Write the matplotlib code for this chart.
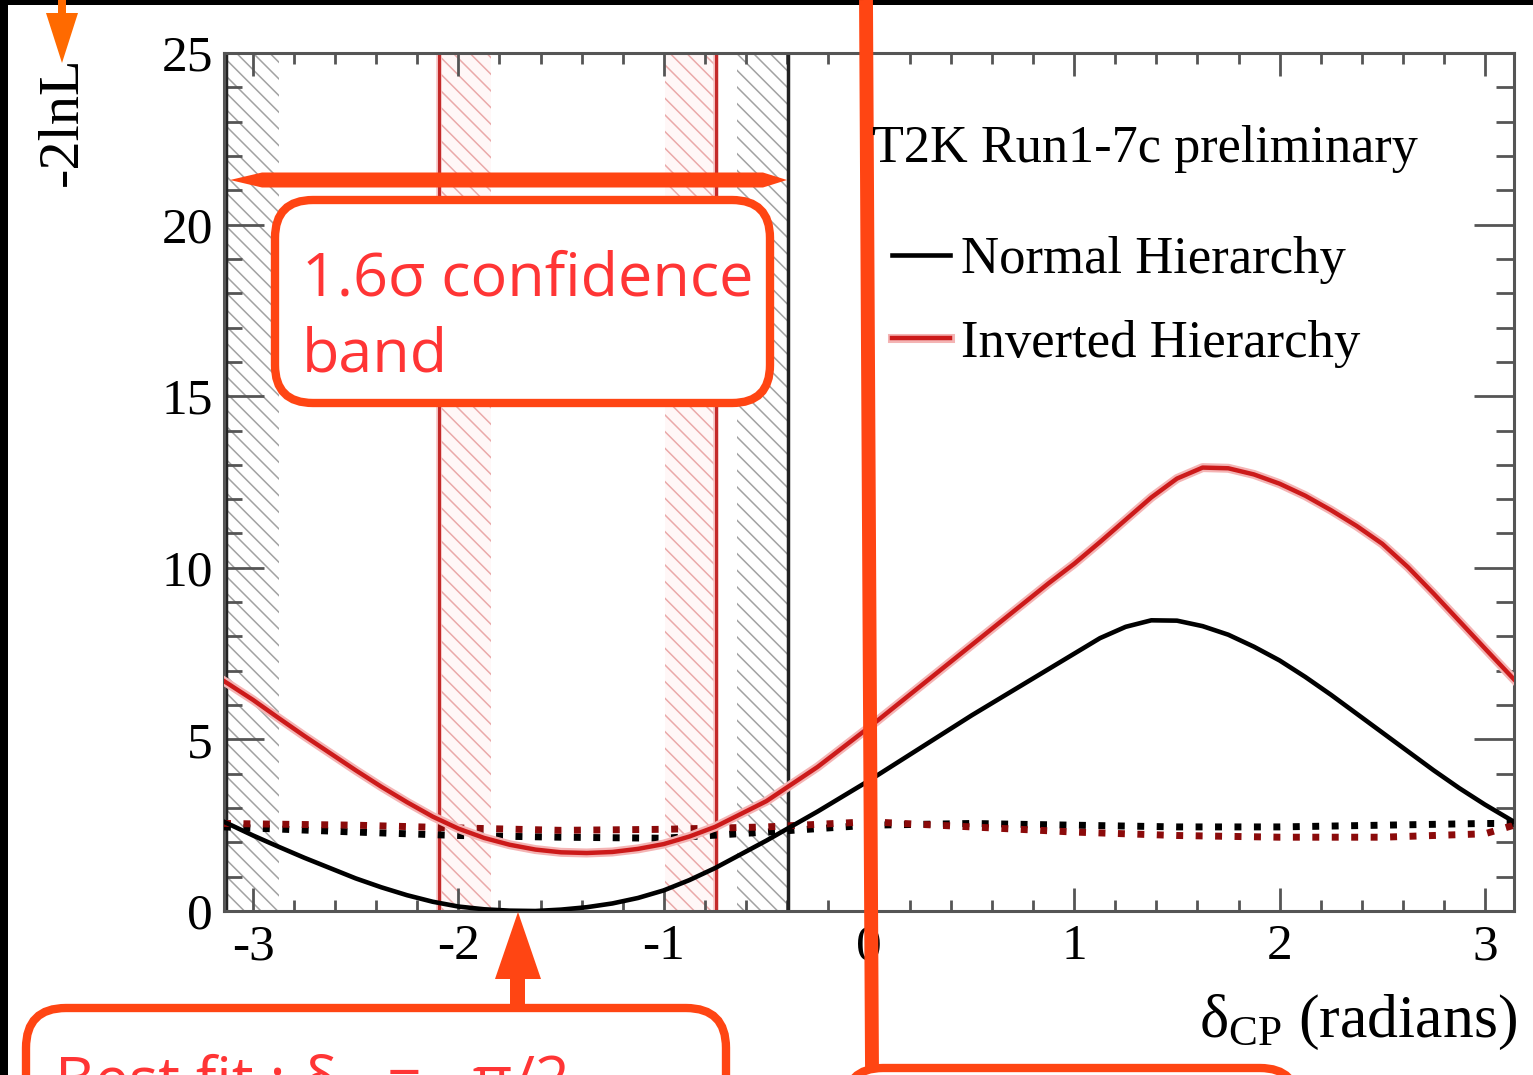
import numpy as np
import matplotlib
matplotlib.use("Agg")
import matplotlib.pyplot as plt
import matplotlib.patheffects as pe
import matplotlib.transforms as mtransforms
from matplotlib.patches import FancyBboxPatch, Polygon, Rectangle
from matplotlib.lines import Line2D
from matplotlib.ticker import MultipleLocator

plt.rcParams['font.family'] = ['Liberation Serif', 'DejaVu Serif']
plt.rcParams['axes.unicode_minus'] = False
plt.rcParams['mathtext.fontset'] = 'custom'
plt.rcParams['mathtext.rm'] = 'Liberation Serif'
plt.rcParams['mathtext.it'] = 'Liberation Serif:italic'
plt.rcParams['hatch.linewidth'] = 1.1

# -2lnL vs delta_CP
delta = [-3.1416, -3.0, -2.875, -2.75, -2.625, -2.5, -2.375, -2.25, -2.125, -2.0,
         -1.875, -1.75, -1.625, -1.5, -1.375, -1.25, -1.125, -1.0, -0.875, -0.75,
         -0.5, -0.25, 0.0, 0.25, 0.5, 0.75, 0.875, 1.0, 1.125, 1.25,
         1.375, 1.5, 1.625, 1.75, 1.875, 2.0, 2.125, 2.25, 2.375, 2.5,
         2.625, 2.75, 2.875, 3.0, 3.1416]
nh = [2.6, 2.2, 1.87, 1.55, 1.25, 0.95, 0.69, 0.46, 0.27, 0.13,
      0.05, 0.01, 0.0, 0.04, 0.11, 0.22, 0.38, 0.6, 0.9, 1.25,
      2.05, 2.9, 3.8, 4.75, 5.7, 6.6, 7.05, 7.5, 7.95, 8.28,
      8.47, 8.46, 8.3, 8.05, 7.7, 7.3, 6.82, 6.3, 5.75, 5.2,
      4.65, 4.1, 3.58, 3.1, 2.6]
ih = [6.7, 6.15, 5.62, 5.1, 4.6, 4.1, 3.62, 3.17, 2.75, 2.4,
      2.13, 1.93, 1.79, 1.71, 1.69, 1.72, 1.81, 1.95, 2.17, 2.45,
      3.2, 4.2, 5.35, 6.55, 7.75, 8.95, 9.55, 10.12, 10.75, 11.4,
      12.05, 12.6, 12.92, 12.9, 12.72, 12.45, 12.1, 11.68, 11.22, 10.7,
      10.02, 9.25, 8.45, 7.65, 6.75]

# critical values (dotted)
crit_x = [-3.1416, -2.5, -2.0, -1.5, -1.0, -0.5, 0.0, 0.5, 1.0, 1.5, 2.0, 2.5, 3.0, 3.1416]
nh_crit = [2.45, 2.3, 2.2, 2.15, 2.12, 2.3, 2.5, 2.55, 2.5, 2.45, 2.45, 2.5, 2.55, 2.55]
ih_crit = [2.55, 2.5, 2.42, 2.35, 2.38, 2.45, 2.6, 2.45, 2.3, 2.2, 2.15, 2.15, 2.25, 2.5]

# confidence intervals
nh_interval = [-3.13, -0.395]
ih_interval = [-2.093, -0.746]
nh_hatch = [(-3.1416, -2.873), (-0.644, -0.395)]
ih_hatch = [(-2.093, -1.839), (-0.995, -0.746)]

W, H = 1533, 1075
ink = '#555555'
orange = '#ff4513'
note_red = '#ff3535'
sans = ['Open Sans', 'DejaVu Sans']

fig = plt.figure(figsize=(W / 100, H / 100), dpi=100)
ax = fig.add_axes([224 / W, 1 - 911 / H, (1514 - 224) / W, (911 - 53) / H])
ax.set_xlim(-np.pi, np.pi)
ax.set_ylim(0, 25)

for lo, hi in nh_hatch:
    ax.axvspan(lo, hi, facecolor='none', edgecolor='#a2a2a2', hatch='\\\\', lw=0, zorder=1)
for lo, hi in ih_hatch:
    ax.axvspan(lo, hi, facecolor='#fff7f7', edgecolor='#eaa9a9', hatch='\\\\', lw=0, zorder=1)
for x in nh_interval:
    ax.axvline(x, color='#222222', lw=2.5, zorder=2)
for x in ih_interval:
    ax.axvline(x, color='#c42a2a', lw=2.2, zorder=2,
               path_effects=[pe.Stroke(linewidth=4, foreground='#f6c4c4'), pe.Normal()])

ax.plot(crit_x, nh_crit, color='black', lw=5, ls=(0, (1, 1.8)), zorder=3)
ax.plot(crit_x, ih_crit, color='#8b0a0a', lw=5, ls=(0, (1, 1.8)), zorder=3)
ax.plot(delta, nh, color='black', lw=3.3, label='Normal Hierarchy', zorder=4)
ax.plot(delta, ih, color='#cc1a1a', lw=3.2, label='Inverted Hierarchy', zorder=4,
        path_effects=[pe.Stroke(linewidth=6.5, foreground='#f4b4b4'), pe.Normal()])

ax.xaxis.set_major_locator(MultipleLocator(1))
ax.xaxis.set_minor_locator(MultipleLocator(0.2))
ax.yaxis.set_major_locator(MultipleLocator(5))
ax.yaxis.set_minor_locator(MultipleLocator(1))
ax.tick_params(which='both', direction='in', top=True, right=True, color=ink, width=2,
               labelsize=37)
ax.tick_params(axis='x', which='major', length=16.5, pad=9)
ax.tick_params(axis='x', which='minor', length=8)
ax.tick_params(axis='y', which='major', length=29, pad=8)
ax.tick_params(axis='y', which='minor', length=13)
for s in ax.spines.values():
    s.set_color(ink)
    s.set_linewidth(2.2)

ax.legend(loc='upper left', bbox_to_anchor=(892 / W, 1 - 236 / H), bbox_transform=fig.transFigure,
          frameon=False, prop={'size': 38}, handlelength=1.1, handletextpad=0.2,
          labelspacing=0.68, borderpad=0, borderaxespad=0)

fig.text(872 / W, 1 - 162 / H, 'T2K Run1-7c preliminary', ha='left', va='baseline', fontsize=37.6)
fig.text(1517 / W, 1 - 1037 / H, r'$\mathrm{\delta_{CP}}$ (radians)', ha='right', va='baseline',
         fontsize=44.5)
fig.text(63 / W, 1 - 121 / H, '-2lnL', rotation=90, ha='center', va='center', fontsize=42)

# annotation layer in image pixels (origin top-left)
px = mtransforms.Affine2D().scale(1 / W, -1 / H).translate(0, 1) + fig.transFigure

fig.add_artist(Rectangle((0, 0), W, 5, transform=px, color='black', lw=0))
fig.add_artist(Rectangle((0, 0), 8, H, transform=px, color='black', lw=0))

fig.add_artist(Polygon([(58, 0), (66, 0), (66, 13), (78, 13), (62, 63), (46, 13), (58, 13)],
                       closed=True, transform=px, color='#ff6a00', lw=0))

fig.add_artist(Polygon([(230, 180), (262, 172.5), (763, 172.5), (787, 180), (763, 187.5), (262, 187.5)],
                       closed=True, transform=px, color=orange, lw=0))

fig.add_artist(FancyBboxPatch((275, 200), 495, 203, boxstyle='round,pad=0,rounding_size=38',
                              transform=px, fc='white', ec=orange, lw=6))
fig.text(302, 295, '1.6σ confidence', transform=px, ha='left', va='baseline',
         fontsize=44, color=note_red, family=sans)
fig.text(302, 372, 'band', transform=px, ha='left', va='baseline',
         fontsize=44, color=note_red, family=sans)

fig.add_artist(Line2D([866, 872], [0, 1068], transform=px, color=orange, lw=10,
                      solid_capstyle='butt'))
fig.add_artist(FancyBboxPatch((845, 1068), 453, 200, boxstyle='round,pad=0,rounding_size=38',
                              transform=px, fc='white', ec=orange, lw=6))

fig.add_artist(Polygon([(510, 1008), (510, 979), (495, 979), (518, 912), (541, 979), (525, 979),
                        (525, 1008)], closed=True, transform=px, color=orange, lw=0))
fig.add_artist(FancyBboxPatch((26, 1008), 700, 200, boxstyle='round,pad=0,rounding_size=40',
                              transform=px, fc='white', ec=orange, lw=6))
fig.text(55, 1100, 'Best fit : δ', transform=px, ha='left', va='baseline',
         fontsize=44, color=note_red, family=sans)
fig.text(343, 1118, 'CP', transform=px, ha='left', va='baseline',
         fontsize=26, color=note_red, family=sans)
fig.text(570, 1100, '= −π/2', transform=px, ha='right', va='baseline',
         fontsize=44, color=note_red, family=sans)

fig.savefig('out.png', dpi=100)
